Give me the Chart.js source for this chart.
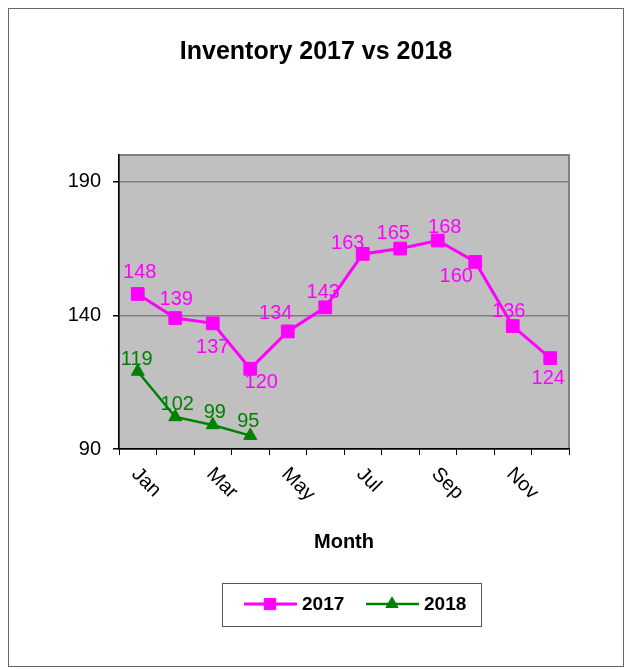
<!DOCTYPE html>
<html>
<head>
<meta charset="utf-8">
<title>Inventory 2017 vs 2018</title>
<script src="https://cdn.jsdelivr.net/npm/chart.js@4.4.1/dist/chart.umd.min.js"></script>
<style>
  body { margin: 0; background: #fff; }
  canvas { display: block; }
</style>
</head>
<body>
<canvas id="myChart" width="628" height="669"></canvas>
<script>
// chart data
var months = ['Jan', 'Feb', 'Mar', 'Apr', 'May', 'Jun', 'Jul', 'Aug', 'Sep', 'Oct', 'Nov', 'Dec'];
var inv2017 = [148, 139, 137, 120, 134, 143, 163, 165, 168, 160, 136, 124];
var inv2018 = [119, 102, 99, 95];
var yTicks = [90, 140, 190];
var chartTitle = 'Inventory 2017 vs 2018';

var FONT = 'Liberation Sans, Arial, sans-serif';

// where each value label sits relative to its point (dx, dy)
var labelOffsets = [
	[[2,-21],[1,-19],[0,24],[11,14],[-12,-18],[-2,-15],[-15,-10],[-7,-15],[7,-13],[-19,15],[-4,-15],[-2,20]],
	[[-1,-12],[2,-12],[2,-12],[-2,-14]]
];

var frame = {
	id: 'frame',
	beforeDraw: function(chart){
		var ctx = chart.ctx;
		var a = chart.chartArea;
		ctx.save();
		ctx.fillStyle = '#fff';
		ctx.fillRect(0, 0, chart.width, chart.height);
		ctx.strokeStyle = '#666';
		ctx.lineWidth = 1;
		ctx.strokeRect(8.5, 8.5, 615, 658);
		ctx.fillStyle = '#c0c0c0';
		ctx.fillRect(a.left, a.top, a.right - a.left, a.bottom - a.top);
		ctx.strokeStyle = '#808080';
		ctx.lineWidth = 2;
		ctx.strokeRect(a.left, a.top, a.right - a.left, a.bottom - a.top);
		ctx.restore();
	}
};

var extras = {
	id: 'extras',
	afterDatasetsDraw: function(chart){
		var ctx = chart.ctx;
		ctx.save();
		ctx.font = '20px ' + FONT;
		ctx.textAlign = 'center';
		ctx.textBaseline = 'middle';
		chart.data.datasets.forEach(function(ds, d){
			var meta = chart.getDatasetMeta(d);
			meta.data.forEach(function(pt, i){
				var off = labelOffsets[d][i];
				ctx.fillStyle = ds.borderColor;
				ctx.fillText(ds.data[i], pt.x + off[0], pt.y + off[1]);
			});
		});
		ctx.restore();
	},
	afterDraw: function(chart){
		var ctx = chart.ctx;
		var xs = chart.scales.x;
		ctx.save();
		// title, centred on the outer frame
		ctx.font = 'bold 25px ' + FONT;
		ctx.fillStyle = '#000';
		ctx.textAlign = 'center';
		ctx.textBaseline = 'middle';
		ctx.fillText(chartTitle, 316, 52);

		// rotated month labels, every other month
		ctx.font = '20px ' + FONT;
		ctx.textAlign = 'left';
		months.forEach(function(m, i){
			if (i % 2) return;
			var x = xs.getPixelForValue(i);
			ctx.save();
			ctx.translate(x - 3, xs.top + 22);
			ctx.rotate(Math.PI / 4);
			ctx.fillText(m, 0, 0);
			ctx.restore();
		});

		// legend box
		ctx.strokeStyle = '#555';
		ctx.lineWidth = 1;
		ctx.strokeRect(222.5, 583.5, 259, 43);
		var items = [[244, 302], [366, 424]];
		ctx.font = 'bold 19px ' + FONT;
		chart.data.datasets.forEach(function(ds, d){
			var x0 = items[d][0], ly = 604;
			ctx.strokeStyle = ds.borderColor;
			ctx.lineWidth = ds.borderWidth;
			ctx.beginPath();
			ctx.moveTo(x0, ly);
			ctx.lineTo(x0 + 53, ly);
			ctx.stroke();
			ctx.fillStyle = ds.pointBackgroundColor;
			ctx.lineWidth = 1;
			Chart.helpers.drawPoint(ctx, {pointStyle: ds.pointStyle, radius: ds.legendRadius, rotation: 0, borderWidth: 1}, x0 + 26, ly);
			ctx.fillStyle = '#000';
			ctx.textAlign = 'left';
			ctx.fillText(ds.label, items[d][1], ly + 1);
		});
		ctx.restore();
	}
};

const ctx = document.getElementById('myChart');

new Chart(ctx, {
	type: 'line',
	data: {
		labels: months,
		datasets: [
			{
				label: '2017',
				data: inv2017,
				borderColor: '#ff00ff',
				backgroundColor: '#ff00ff',
				pointBackgroundColor: '#ff00ff',
				borderWidth: 3,
				pointStyle: 'rect',
				pointRadius: 9,
				legendRadius: 8,
				pointBorderWidth: 1,
				tension: 0
			},
			{
				label: '2018',
				data: inv2018,
				borderColor: '#008000',
				backgroundColor: '#008000',
				pointBackgroundColor: '#008000',
				borderWidth: 2.5,
				pointStyle: 'triangle',
				pointRadius: 7.5,
				legendRadius: 7,
				pointBorderWidth: 1,
				tension: 0
			}
		]
	},
	options: {
		responsive: false,
		animation: false,
		events: [],
		layout: {
			padding: { left: 0, top: 155, right: 59, bottom: 111 }
		},
		plugins: {
			legend: { display: false },
			tooltip: { enabled: false },
			title: { display: false }
		},
		scales: {
			x: {
				offset: true,
				afterFit: function(scale){ scale.height = 109; },
				grid: {
					offset: true,
					drawOnChartArea: false,
					drawTicks: true,
					tickLength: 6,
					tickColor: '#000'
				},
				border: { color: '#000', width: 1.5 },
				ticks: { display: false },
				title: {
					display: true,
					text: 'Month',
					color: '#000',
					font: { family: FONT, size: 20, weight: 'bold' },
					padding: { top: 4, bottom: 4 }
				}
			},
			y: {
				min: 90,
				max: 200,
				afterFit: function(scale){ scale.width = 119; },
				afterBuildTicks: function(scale){
					scale.ticks = yTicks.map(function(v){ return { value: v }; });
				},
				grid: {
					color: '#808080',
					lineWidth: 1.5,
					tickLength: 6,
					tickColor: '#000'
				},
				border: { color: '#000', width: 1.5 },
				ticks: {
					color: '#000',
					padding: 12,
					font: { family: FONT, size: 20 }
				}
			}
		}
	},
	plugins: [frame, extras]
});
</script>
</body>
</html>
